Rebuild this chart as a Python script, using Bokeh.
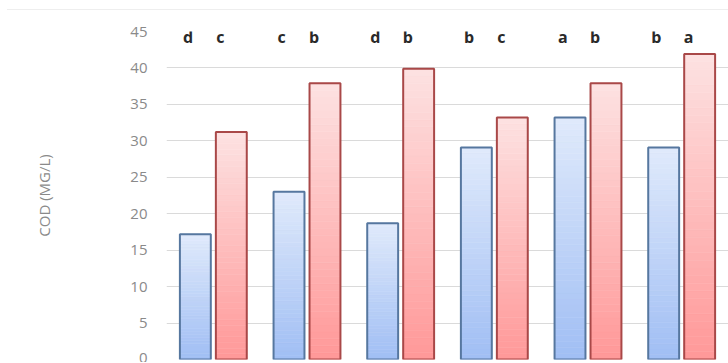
from bokeh.plotting import figure
from bokeh.models import FactorRange, ColumnDataSource, Div, FixedTicker
from bokeh.transform import dodge
from bokeh.layouts import column
from bokeh.embed import file_html
from bokeh.resources import INLINE
from bokeh.core.properties import value

# COD per treatment: two series, with significance letters
groups = ["T1", "T2", "T3", "T4", "T5", "T6"]
series_a = [17.2, 23.0, 18.7, 29.1, 33.2, 29.1]
series_b = [31.2, 37.9, 39.9, 33.2, 37.9, 41.9]
letters_a = ["d", "c", "d", "b", "a", "b"]
letters_b = ["c", "b", "b", "c", "b", "a"]
y_ticks = [0, 5, 10, 15, 20, 25, 30, 35, 40, 45]

FONT = "Open Sans"
OFFSET = 0.192
BAR_W = 0.33
N_STRIPS = 40


def mix(c1, c2, t):
    a = [int(c1[i:i + 2], 16) for i in (1, 3, 5)]
    b = [int(c2[i:i + 2], 16) for i in (1, 3, 5)]
    return "#%02x%02x%02x" % tuple(round(a[k] + (b[k] - a[k]) * t) for k in range(3))


def strips(values, bottom_col, top_col):
    """Split each bar into thin horizontal bands to get a vertical gradient."""
    g, b, t, c = [], [], [], []
    for grp, v in zip(groups, values):
        for k in range(N_STRIPS):
            g.append(grp)
            b.append(v * k / N_STRIPS)
            t.append(v * (k + 1) / N_STRIPS)
            c.append(mix(bottom_col, top_col, (k + 0.5) / N_STRIPS))
    return ColumnDataSource(dict(g=g, b=b, t=t, c=c))


p = figure(
    x_range=FactorRange(factors=groups),
    y_range=(0, 45),
    width=728, height=352,
    min_border_left=166, min_border_right=0,
    min_border_top=21, min_border_bottom=3,
    output_backend="svg", toolbar_location=None,
)
p.outline_line_color = None
p.background_fill_color = "white"
p.border_fill_color = "white"

src_a = strips(series_a, "#a0bef4", "#e0eafb")
src_b = strips(series_b, "#ff9898", "#fde2e2")
p.vbar(x=dodge("g", -OFFSET, range=p.x_range), bottom="b", top="t", width=BAR_W,
       source=src_a, fill_color="c", line_color="c", line_width=0.6)
p.vbar(x=dodge("g", OFFSET, range=p.x_range), bottom="b", top="t", width=BAR_W,
       source=src_b, fill_color="c", line_color="c", line_width=0.6)

bars = ColumnDataSource(dict(g=groups, a=series_a, b=series_b,
                             la=letters_a, lb=letters_b,
                             y=[44.2] * len(groups)))
p.vbar(x=dodge("g", -OFFSET, range=p.x_range), top="a", width=BAR_W, source=bars,
       fill_color=None, line_color="#56779f", line_width=2)
p.vbar(x=dodge("g", OFFSET, range=p.x_range), top="b", width=BAR_W, source=bars,
       fill_color=None, line_color="#a94848", line_width=2)

for col, dx in (("la", -0.27), ("lb", 0.075)):
    p.text(x=dodge("g", dx, range=p.x_range), y="y", text=col, source=bars,
           text_font=value(FONT), text_font_size="16px", text_font_style="bold",
           text_color="#2a2a2a", text_align="center", text_baseline="middle")

p.xaxis.visible = False
p.xgrid.grid_line_color = None
p.ygrid.grid_line_color = "#dadada"
p.ygrid.grid_line_width = 1

ya = p.yaxis[0]
ya.ticker = FixedTicker(ticks=y_ticks)
ya.axis_line_color = None
ya.major_tick_line_color = None
ya.minor_tick_line_color = None
ya.major_label_text_font = FONT
ya.major_label_text_font_size = "15px"
ya.major_label_text_color = "#8a8a8a"
ya.major_label_standoff = 13
ya.axis_label = "COD (MG/L)"
ya.axis_label_text_font = FONT
ya.axis_label_text_font_size = "15px"
ya.axis_label_text_font_style = "normal"
ya.axis_label_text_color = "#8a8a8a"
ya.axis_label_standoff = 73

top_rule = Div(text="", width=721, height=10, margin=(0, 0, 0, 7),
               styles={"border-bottom": "1px solid #eeeeee"})

layout = column(top_rule, p, spacing=0)
open("out.html", "w").write(file_html(layout, INLINE))
